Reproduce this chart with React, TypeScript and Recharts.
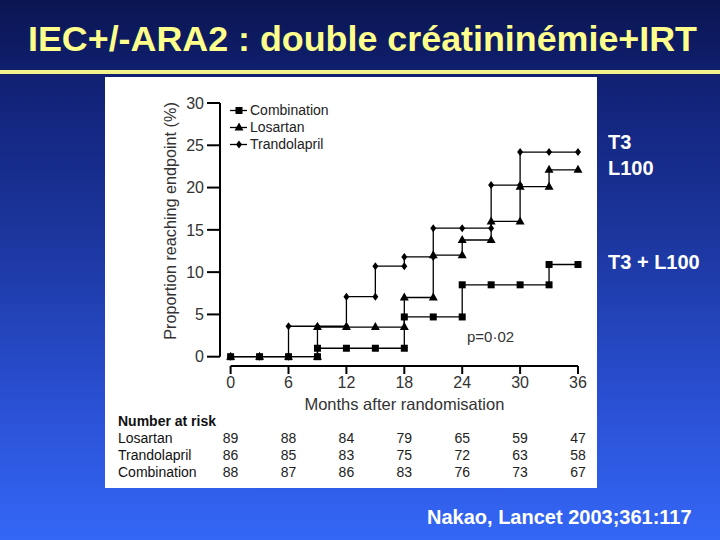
import React from 'react';
import { LineChart, Line, XAxis, YAxis, Legend, ReferenceLine } from 'recharts';

// Kaplan-Meier estimates, read every 3 months (value after any step at that month)
const MONTHS = [0, 3, 6, 9, 12, 15, 18, 21, 24, 27, 30, 33, 36];
const COMBINATION = [0, 0, 0, 1.0, 1.0, 1.0, 4.7, 4.7, 8.5, 8.5, 8.5, 10.9, 10.9];
const LOSARTAN = [0, 0, 0, 3.5, 3.5, 3.5, 7.0, 12.0, 13.8, 16.0, 20.1, 22.1, 22.1];
const TRANDOLAPRIL = [0, 0, 3.6, 3.6, 7.1, 10.7, 11.8, 15.2, 15.2, 20.3, 24.2, 24.2, 24.2];

const X_TICKS = [0, 6, 12, 18, 24, 30, 36];
const Y_TICKS = [0, 5, 10, 15, 20, 25, 30];

// number at risk, one value per x tick
const LOSARTAN_RISK = [89, 88, 84, 79, 65, 59, 47];
const TRANDOLAPRIL_RISK = [86, 85, 83, 75, 72, 63, 58];
const COMBINATION_RISK = [88, 87, 86, 83, 76, 73, 67];
const RISK_ROWS = [
  { name: 'Losartan', values: LOSARTAN_RISK },
  { name: 'Trandolapril', values: TRANDOLAPRIL_RISK },
  { name: 'Combination', values: COMBINATION_RISK },
];

const FONT = '"Liberation Sans", Arial, Helvetica, sans-serif';
const AXIS_GAP = -1.1; // the axes stand a little away from the origin
const Y_MAX = 30;

type Shape = 'square' | 'triangle' | 'diamond';

const SERIES: { name: string; values: number[]; shape: Shape }[] = [
  { name: 'Combination', values: COMBINATION, shape: 'square' },
  { name: 'Losartan', values: LOSARTAN, shape: 'triangle' },
  { name: 'Trandolapril', values: TRANDOLAPRIL, shape: 'diamond' },
];

// add the value before each step so the curve is drawn as a staircase
const stepPoints = (values: number[]) => {
  const pts: { month: number; value: number }[] = [];
  values.forEach((v, i) => {
    if (i > 0 && values[i - 1] !== v) pts.push({ month: MONTHS[i], value: values[i - 1] });
    pts.push({ month: MONTHS[i], value: v });
  });
  return pts;
};

const Marker = ({ cx, cy, shape }: { cx?: number; cy?: number; shape: Shape }) => {
  if (cx == null || cy == null) return null;
  if (shape === 'square') return <rect x={cx - 3.5} y={cy - 3.5} width={7} height={7} fill="#000" />;
  if (shape === 'triangle')
    return <polygon points={`${cx},${cy - 5} ${cx - 4.5},${cy + 3} ${cx + 4.5},${cy + 3}`} fill="#000" />;
  return <polygon points={`${cx},${cy - 4} ${cx + 3},${cy} ${cx},${cy + 4} ${cx - 3},${cy}`} fill="#000" />;
};

const LegendContent = ({ payload }: any) => {
  const items = [...(payload || [])].sort(
    (a: any, b: any) =>
      SERIES.findIndex(s => s.name === a.value) - SERIES.findIndex(s => s.name === b.value)
  );
  return (
    <div style={{ fontFamily: FONT, fontSize: 14, color: '#222' }}>
      {items.map((entry: any) => {
        const s = SERIES.find(x => x.name === entry.value);
        return (
          <div key={entry.value} style={{ display: 'flex', alignItems: 'center', height: 17 }}>
            <svg width={20} height={17}>
              <line x1={0} x2={17} y1={8.5} y2={8.5} stroke="#000" strokeWidth={1.3} />
              <Marker cx={9} cy={8.5} shape={s ? s.shape : 'square'} />
            </svg>
            <span style={{ lineHeight: '17px' }}>{entry.value}</span>
          </div>
        );
      })}
    </div>
  );
};

// y-axis title, and the axis spine from 0 to 30 (it stops short of the x axis)
const YTitle = ({ viewBox }: any) => {
  const vx = viewBox?.x ?? 55;
  const vy = viewBox?.y ?? 26;
  const vw = viewBox?.width ?? 60;
  const vh = viewBox?.height ?? 263;
  const x = vx + 16;
  const y = vy + 118;
  const spineX = vx + vw;
  const zeroY = vy + (vh * (Y_MAX - 0)) / (Y_MAX - AXIS_GAP);
  return (
    <g>
      <line x1={spineX} x2={spineX} y1={vy} y2={zeroY} stroke="#000" strokeWidth={2} />
      <text x={x} y={y} transform={`rotate(-90 ${x} ${y})`} textAnchor="middle" fontSize={16.2} fill="#333" fontFamily={FONT}>
        Proportion reaching endpoint (%)
      </text>
    </g>
  );
};

// y tick: label plus its own tick mark
const YTick = ({ x, y, payload }: any) => (
  <g>
    <line x1={x + 3} x2={x + 16} y1={y} y2={y} stroke="#000" strokeWidth={2} />
    <text x={x} y={y} dy="0.355em" textAnchor="end" fontSize={16} fill="#333" fontFamily={FONT}>
      {payload?.value}
    </text>
  </g>
);

// x-axis title plus the "Number at risk" heading and row names
const XTitle = ({ viewBox }: any) => {
  const x = viewBox?.x ?? 115;
  const y = viewBox?.y ?? 289;
  return (
    <g fontFamily={FONT}>
      <text x={x + 184.4} y={y + 44} textAnchor="middle" fontSize={16.5} fill="#333">
        Months after randomisation
      </text>
      <text x={13} y={y + 60} fontSize={14} fontWeight="bold" fill="#111">
        Number at risk
      </text>
      {RISK_ROWS.map((r, i) => (
        <text key={r.name} x={13} y={y + 77 + i * 17} fontSize={14} fill="#111">
          {r.name}
        </text>
      ))}
    </g>
  );
};

// month label, with the numbers at risk stacked under it
const MonthTick = ({ x, y, payload }: any) => {
  const i = X_TICKS.indexOf(payload?.value);
  return (
    <g fontFamily={FONT}>
      <text x={x} y={y} dy="0.71em" textAnchor="middle" fontSize={16} fill="#333">
        {payload?.value}
      </text>
      {RISK_ROWS.map((r, k) => (
        <text key={r.name} x={x} y={y + 66 + k * 17} textAnchor="middle" fontSize={14} fill="#222">
          {i >= 0 ? r.values[i] : ''}
        </text>
      ))}
    </g>
  );
};

const App: React.FC = () => {
  return (
    <div
      style={{
        position: 'absolute',
        left: 0,
        top: 0,
        width: 720,
        height: 540,
        overflow: 'hidden',
        background: 'linear-gradient(to bottom, #0a1550 0%, #12237a 18%, #1c37a0 45%, #2a50d4 75%, #3467f6 100%)',
      }}
    >
      <div style={{ position: 'absolute', left: 105, top: 77, width: 492, height: 411, background: '#fff' }}>
        <LineChart width={492} height={411} margin={{ top: 26, right: 19, bottom: 10, left: 55 }}>
          <XAxis
            xAxisId="a"
            type="number"
            dataKey="month"
            domain={[AXIS_GAP, 36]}
            ticks={X_TICKS}
            interval={0}
            height={112}
            axisLine={false}
            tickLine={{ stroke: '#000', strokeWidth: 2 }}
            tickSize={8}
            tickMargin={3}
            tick={<MonthTick />}
            label={<XTitle />}
          />
          <YAxis
            yAxisId="y"
            type="number"
            domain={[AXIS_GAP, Y_MAX]}
            ticks={Y_TICKS}
            interval={0}
            width={60}
            axisLine={false}
            tickLine={false}
            tickSize={13}
            tickMargin={3}
            tick={<YTick />}
            label={<YTitle />}
          />
          <ReferenceLine
            xAxisId="a"
            yAxisId="y"
            ifOverflow="visible"
            segment={[{ x: 0, y: AXIS_GAP }, { x: 36, y: AXIS_GAP }]}
            stroke="#000"
            strokeWidth={2}
          />
          {SERIES.map(s => (
            <Line
              key={s.name}
              xAxisId="a"
              yAxisId="y"
              name={s.name}
              data={stepPoints(s.values)}
              dataKey="value"
              type="linear"
              stroke="#000"
              strokeWidth={1.3}
              dot={(p: any) => <Marker key={`${s.name}-${p.index}`} cx={p.cx} cy={p.cy} shape={s.shape} />}
              activeDot={false}
              isAnimationActive={false}
            />
          ))}
          <Legend
            content={<LegendContent />}
            layout="vertical"
            align="center"
            verticalAlign="middle"
            wrapperStyle={{ top: 25, left: 125, width: 160 }}
          />
        </LineChart>
      </div>

      <svg width={720} height={540} style={{ position: 'absolute', left: 0, top: 0, pointerEvents: 'none' }}>
        <text
          x={28}
          y={51}
          textLength={669}
          lengthAdjust="spacingAndGlyphs"
          fontSize={35}
          fontWeight="bold"
          fill="#ffff8c"
          fontFamily={FONT}
        >
          IEC+/-ARA2 : double créatininémie+IRT
        </text>
        <rect x={0} y={70} width={720} height={4} fill="#f2f28a" />
        <text x={467} y={342} fontSize={15} fill="#333" fontFamily={FONT}>
          p=0·02
        </text>
        <g fill="#fff" fontWeight="bold" fontSize={20} fontFamily={FONT}>
          <text x={608} y={149}>T3</text>
          <text x={608} y={175}>L100</text>
          <text x={608} y={269}>T3 + L100</text>
          <text x={427} y={524}>Nakao, Lancet 2003;361:117</text>
        </g>
      </svg>
    </div>
  );
};

export default App;
